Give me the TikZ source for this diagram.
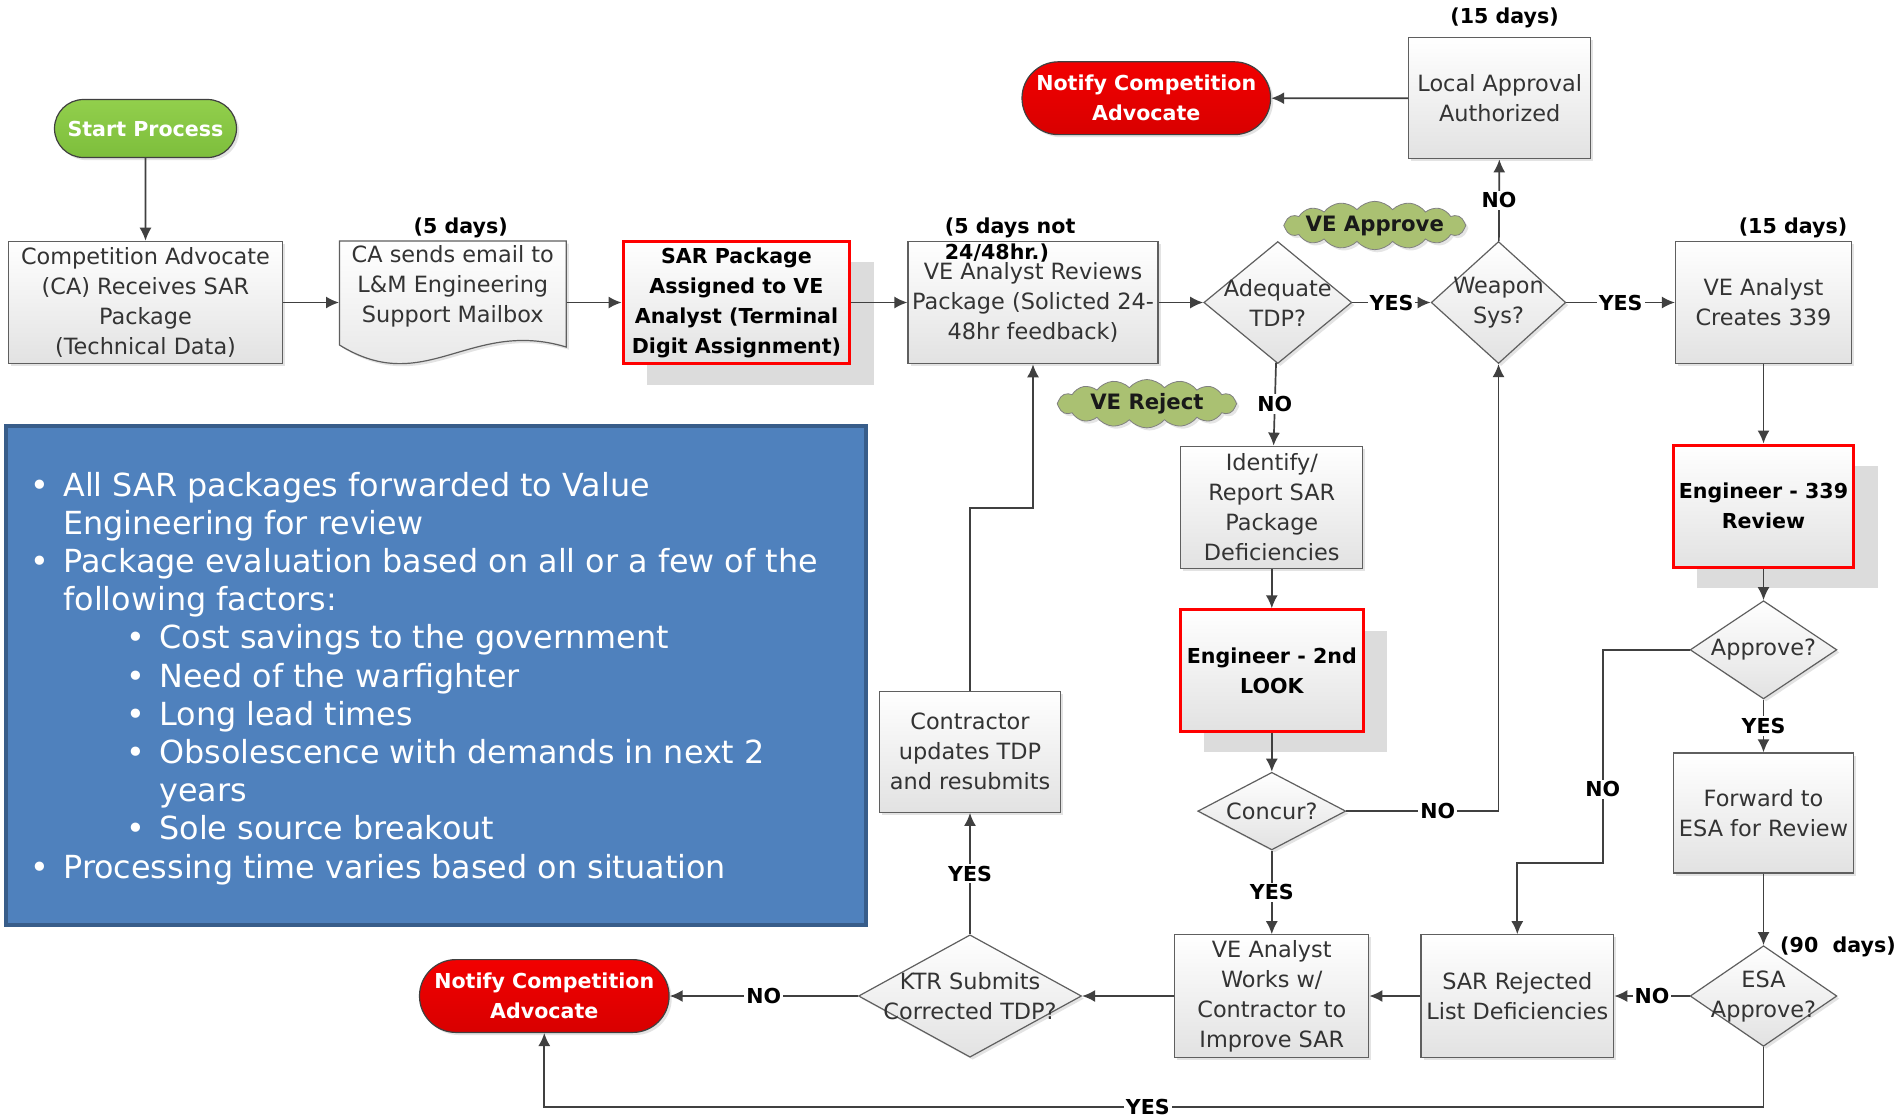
\documentclass[tikz,border=0pt]{standalone}
\usepackage{fontspec}
\setmainfont{DejaVu Sans}
\usetikzlibrary{shapes.geometric,shapes.symbols,shapes.misc,arrows.meta,shadows}
\definecolor{linec}{HTML}{404040}
\definecolor{boxborder}{HTML}{5F5F5F}
\definecolor{boxbot}{HTML}{E2E2E2}
\definecolor{txtc}{HTML}{333333}
\definecolor{redtop}{HTML}{F20000}
\definecolor{redbot}{HTML}{D80000}
\definecolor{greentop}{HTML}{92CF4C}
\definecolor{greenbot}{HTML}{7DBE3C}
\definecolor{cloudfill}{HTML}{AAC172}
\definecolor{bluefill}{HTML}{4F81BD}
\definecolor{blueborder}{HTML}{385D8A}
\definecolor{shade}{HTML}{DCDCDC}
\tikzset{
  base/.style={font=\fontsize{11.2}{15}\selectfont, align=center, text=txtc},
  procbox/.style={base, rectangle, draw=boxborder, line width=0.6pt, top color=white, bottom color=boxbot, inner sep=0pt,
    drop shadow={shadow xshift=1.3pt, shadow yshift=-1.3pt, opacity=0.22}},
  redbox/.style={rectangle, draw=red, line width=1.5pt, top color=white, bottom color=boxbot, inner sep=0pt,
    align=center, text=black, font=\fontsize{10.3}{15}\selectfont\bfseries,
    general shadow={shadow xshift=12pt, shadow yshift=-10.5pt, fill=shade}},
  dia/.style={diamond, draw=boxborder, line width=0.6pt, top color=white, bottom color=boxbot, inner sep=0pt,
    drop shadow={shadow xshift=1.3pt, shadow yshift=-1.3pt, opacity=0.22}},
  diatxt/.style={base},
  pill/.style={rounded rectangle, draw=linec, line width=0.6pt, inner sep=0pt, text=white, align=center,
    font=\fontsize{10.3}{15}\selectfont\bfseries, drop shadow={shadow xshift=1.3pt, shadow yshift=-1.3pt, opacity=0.22}},
  cloudy/.style={cloud, cloud puffs=16, cloud puff arc=100, aspect=3.7, draw=gray, fill=cloudfill, inner sep=0pt,
    drop shadow={shadow xshift=1.3pt, shadow yshift=-1.3pt, opacity=0.2}},
  cloudtxt/.style={font=\fontsize{10.6}{12}\selectfont\bfseries, text=black!90},
  lbl/.style={font=\fontsize{10.3}{12.7}\selectfont\bfseries, text=black, fill=white, inner sep=1pt},
  daylbl/.style={font=\fontsize{10.3}{12.7}\selectfont\bfseries, text=black, inner sep=0pt},
  conn/.style={draw=linec, line width=0.85pt, -{Latex[length=6.5pt,width=6pt]}},
  bul/.style={text=white, font=\fontsize{15.9}{19}\selectfont, anchor=base west, inner sep=0pt},
}
\begin{document}
\begin{tikzpicture}[x=0.5pt,y=-0.5pt]
\useasboundingbox (0,0) rectangle (1901,1116);
\fill[white] (0,0) rectangle (1901,1116);

% ---------- blue info box ----------
\node[draw=blueborder, line width=2pt, fill=bluefill, minimum width=429.8pt, minimum height=249.7pt, inner sep=0pt] (blue) at (435.8,675.3) {};
\node[bul] (b1) at (30,496) {•};
\node[bul] (t1) at (63,496) {All SAR packages forwarded to Value};
\node[bul] (t2) at (63,534.2) {Engineering for review};
\node[bul] (b2) at (30,572.4) {•};
\node[bul] (t3) at (63,572.4) {Package evaluation based on all or a few of the};
\node[bul] (t4) at (63,610.6) {following factors:};
\node[bul] (b3) at (126,648.8) {•};
\node[bul] (t5) at (159,648.8) {Cost savings to the government};
\node[bul] (b4) at (126,687) {•};
\node[bul] (t6) at (159,687) {Need of the warfighter};
\node[bul] (b5) at (126,725.2) {•};
\node[bul] (t7) at (159,725.2) {Long lead times};
\node[bul] (b6) at (126,763.4) {•};
\node[bul] (t8) at (159,763.4) {Obsolescence with demands in next 2};
\node[bul] (t9) at (159,801.6) {years};
\node[bul] (b7) at (126,839.8) {•};
\node[bul] (t10) at (159,839.8) {Sole source breakout};
\node[bul] (b8) at (30,878) {•};
\node[bul] (t11) at (63,878) {Processing time varies based on situation};

% ---------- top row ----------
\node[pill, top color=greentop, bottom color=greenbot, minimum width=91pt, minimum height=29pt] (start) at (145.5,128.5) {Start Process};
\node[procbox, minimum width=137pt, minimum height=61.2pt] (ca) at (145.5,302.5) {Competition Advocate\\(CA) Receives SAR\\Package\\(Technical Data)};

\draw[draw=boxborder, line width=0.6pt, top color=white, bottom color=boxbot,
  drop shadow={shadow xshift=1.3pt, shadow yshift=-1.3pt, opacity=0.22}]
  (339.5,241) -- (566.2,241) -- (566.2,347) .. controls (470,318) and (425,398) .. (339.5,345) -- cycle;
\node[minimum width=113.4pt, minimum height=61.5pt, inner sep=0pt] (doc) at (452.8,302.5) {};
\node[base] (doct) at (452.8,286) {CA sends email to\\L\&M Engineering\\Support Mailbox};
\node[daylbl] (d5) at (460.7,228) {(5 days)};

\node[redbox, minimum width=113.4pt, minimum height=61.2pt] (sar) at (736.5,302.5) {SAR Package\\Assigned to VE\\Analyst (Terminal\\Digit Assignment)};

\node[procbox, minimum width=125pt, minimum height=61.2pt] (ver) at (1033,302.5) {VE Analyst Reviews\\Package (Solicted 24-\\48hr feedback)};
\node[daylbl, anchor=west] (d5a) at (944.5,228) {(5 days not};
\node[daylbl, anchor=west] (d5b) at (944.5,253.4) {24/48hr.)};

\node[dia, minimum width=74pt, minimum height=61pt] (adq) at (1277.8,302.5) {};
\node[diatxt] (adqt) at (adq) {Adequate\\TDP?};
\node[dia, minimum width=67.3pt, minimum height=61pt] (wpn) at (1498.5,302.5) {};
\node[diatxt] (wpnt) at (wpn) {Weapon\\Sys?};

\node[procbox, minimum width=88pt, minimum height=61.2pt] (vec) at (1763.5,302.5) {VE Analyst\\Creates 339};
\node[daylbl] (d15b) at (1793,228) {(15 days)};

\node[procbox, minimum width=91pt, minimum height=60.6pt] (loc) at (1499.7,98.2) {Local Approval\\Authorized};
\node[daylbl] (d15a) at (1504.6,18.2) {(15 days)};
\node[pill, top color=redtop, bottom color=redbot, minimum width=124.3pt, minimum height=36.4pt] (ntop) at (1146.3,98.2) {Notify Competition\\Advocate};

\node[cloudy, minimum width=91pt, minimum height=24.2pt] (capp) at (1374.8,225.5) {};
\node[cloudtxt] (cappt) at (capp) {VE Approve};
\node[cloudy, minimum width=89.7pt, minimum height=24.2pt] (crej) at (1146.9,403.7) {};
\node[cloudtxt] (crejt) at (crej) {VE Reject};

% ---------- middle column ----------
\node[procbox, minimum width=91pt, minimum height=61.2pt] (idf) at (1271.8,507.4) {Identify/\\Report SAR\\Package\\Deficiencies};
\node[redbox, minimum width=91.5pt, minimum height=60.6pt] (eng2) at (1271.8,670.4) {Engineer - 2nd\\LOOK};
\node[dia, minimum width=74pt, minimum height=38.8pt] (con) at (1271.8,811.1) {};
\node[diatxt] (cont) at (con) {Concur?};
\node[procbox, minimum width=97pt, minimum height=61.2pt] (vew) at (1271.8,996) {VE Analyst\\Works w/\\Contractor to\\Improve SAR};

% ---------- right column ----------
\node[redbox, minimum width=90.3pt, minimum height=61.2pt] (e339) at (1763.5,506.2) {Engineer - 339\\Review};
\node[dia, minimum width=73.4pt, minimum height=49.1pt] (apr) at (1763.5,649.8) {};
\node[diatxt] (aprt) at (apr) {Approve?};
\node[procbox, minimum width=90.3pt, minimum height=60pt] (fwd) at (1763.5,812.9) {Forward to\\ESA for Review};
\node[dia, minimum width=73.4pt, minimum height=50.3pt] (esa) at (1763.5,996) {};
\node[diatxt] (esat) at (esa) {ESA\\Approve?};
\node[daylbl] (d90) at (1838,947) {(90~~days)};
\node[procbox, minimum width=96.4pt, minimum height=61.2pt] (sarr) at (1517.3,996) {SAR Rejected\\List Deficiencies};

% ---------- bottom left ----------
\node[dia, minimum width=111.5pt, minimum height=61.2pt] (ktr) at (970,996) {};
\node[diatxt] (ktrt) at (ktr) {KTR Submits\\Corrected TDP?};
\node[procbox, minimum width=90.3pt, minimum height=60.6pt] (ctr) at (970,751.7) {Contractor\\updates TDP\\and resubmits};
\node[pill, top color=redtop, bottom color=redbot, minimum width=124.8pt, minimum height=36.4pt] (nbot) at (544.3,996) {Notify Competition\\Advocate};

% ---------- bend points ----------
\coordinate (j1) at (1033,508);
\coordinate (a1) at (1602.8,649.8);
\coordinate (a2) at (1602.8,863.2);
\coordinate (a3) at (1517.3,863.2);
\coordinate (y1) at (1763.5,1107);
\coordinate (y2) at (544.3,1107);

% ---------- connectors ----------
\draw[conn] (start) -- (ca);
\draw[conn] (ca) -- (doc);
\draw[conn] (doc) -- (sar);
\draw[conn] (sar) -- (ver);
\draw[conn] (ver) -- (adq);
\draw[conn] (adq) -- node[lbl] (l1) {YES} (wpn);
\draw[conn] (wpn) -- node[lbl] (l2) {YES} (vec);
\draw[conn] (wpn) -- node[lbl] (l3) {NO} (loc);
\draw[conn] (loc) -- (ntop);
\draw[conn] (adq) -- node[lbl] (l4) {NO} (idf);
\draw[conn] (idf) -- (eng2);
\draw[conn] (eng2) -- (con);
\draw[conn] (con.east) -- node[lbl, pos=0.6] (l5) {NO} (con.east -| wpn.south) -- (wpn.south);
\draw[conn] (con) -- node[lbl] (l6) {YES} (vew);
\draw[conn] (vew) -- (ktr);
\draw[conn] (ktr) -- node[lbl] (l7) {NO} (nbot);
\draw[conn] (ktr) -- node[lbl] (l8) {YES} (ctr);
\draw[conn] (ctr.north) |- (j1) -- (ver.south);
\draw[conn] (sarr) -- (vew);
\draw[conn] (esa) -- node[lbl] (l9) {NO} (sarr);
\draw[conn] (esa.south) -- (y1) -- node[lbl, pos=0.505] (l10) {YES} (y2) -- (nbot.south);
\draw[conn] (fwd) -- (esa);
\draw[conn] (vec) -- (e339);
\draw[conn] (e339) -- (apr);
\draw[conn] (apr) -- node[lbl] (l11) {YES} (fwd);
\draw[conn] (apr.west) -- (a1) -- node[lbl, pos=0.654] (l12) {NO} (a2) -- (a3) -- (sarr.north);
\end{tikzpicture}
\end{document}
